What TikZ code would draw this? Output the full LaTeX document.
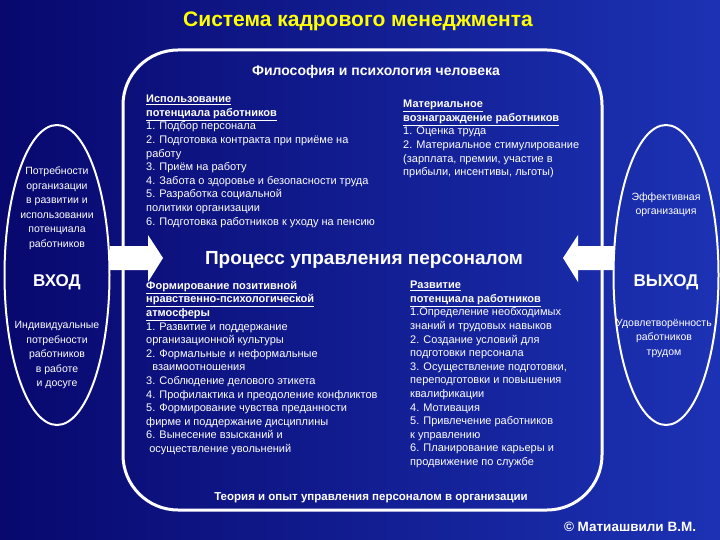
\documentclass[tikz,border=0pt]{standalone}
\usepackage{fontspec}
\setmainfont{Liberation Sans}
\usetikzlibrary{shapes.arrows,shapes.geometric}
\definecolor{bgA}{RGB}{8,8,110}
\definecolor{bgB}{RGB}{28,50,180}
\definecolor{ttl}{RGB}{255,255,0}
\begin{document}
\begin{tikzpicture}[x=1pt,y=-1pt,
  txt/.style={text=white,font=\fontsize{11}{13.6}\selectfont,align=left,inner sep=0pt},
  hd/.style={text=white,font=\bfseries\fontsize{11.5}{14}\selectfont,align=left,inner sep=0pt},
  ell/.style={draw=white,line width=2pt,ellipse,minimum width=105pt,minimum height=300pt}]
\fill[left color=bgA,right color=bgB] (0,0) rectangle (720,540);
\useasboundingbox (0,0) rectangle (720,540);
\node[text=ttl,font=\bfseries\fontsize{21}{24}\selectfont] (title) at (358,21) {Система кадрового менеджмента};
\draw[white,line width=3pt,rounded corners=55pt] (123,50) rectangle (602,510);
\node[hd,font=\bfseries\fontsize{14}{16}\selectfont] (phil) at (376,72) {Философия и психология человека};
\node[ell] (L) at (57,275) {};
\node[ell] (R) at (666,275) {};
\fill[white] (110,246) -- (148,246) -- (148,235) -- (163,258) -- (148,282) -- (148,270) -- (110,270) -- cycle;
\fill[white] (614,246) -- (578,246) -- (578,235) -- (563,258) -- (578,282) -- (578,270) -- (614,270) -- cycle;
\node[text=white,font=\bfseries\fontsize{19}{22}\selectfont,inner sep=0pt] (proc) at (364,260) {Процесс управления персоналом};
\node[txt,align=center,font=\fontsize{10.5}{14.5}\selectfont] (ln) at (57,208) {Потребности\\организации\\в развитии и\\использовании\\потенциала\\работников};
\node[text=white,font=\bfseries\fontsize{17}{20}\selectfont] (vh) at (57,282) {ВХОД};
\node[txt,align=center,font=\fontsize{10.5}{14.5}\selectfont] (ln2) at (57,355) {Индивидуальные\\потребности\\работников\\в работе\\и досуге};
\node[txt,align=center,font=\fontsize{10.5}{14.5}\selectfont] (rn) at (666,205) {Эффективная\\организация};
\node[text=white,font=\bfseries\fontsize{17}{20}\selectfont] (vy) at (666,282) {ВЫХОД};
\node[txt,align=center,font=\fontsize{10.5}{14.5}\selectfont] (rn2) at (664,338) {Удовлетворённость\\работников\\трудом};
\node[txt,anchor=north west] (b1) at (146,95) {\textbf{\underline{Использование}}\\\textbf{\underline{потенциала работников}}\\1. Подбор персонала\\2. Подготовка контракта при приёме на\\работу\\3. Приём на работу\\4. Забота о здоровье и безопасности труда\\5. Разработка социальной\\политики организации\\6. Подготовка работников к уходу на пенсию};
\node[txt,anchor=north west] (b2) at (403,100) {\textbf{\underline{Материальное}}\\\textbf{\underline{вознаграждение работников}}\\1. Оценка труда\\2. Материальное стимулирование\\(зарплата, премии, участие в\\прибыли, инсентивы, льготы)};
\node[txt,anchor=north west] (b3) at (146,281) {\textbf{\underline{Формирование позитивной}}\\\textbf{\underline{нравственно-психологической}}\\\textbf{\underline{атмосферы}}\\1. Развитие и поддержание\\организационной культуры\\2. Формальные и неформальные\\\ \ взаимоотношения\\3. Соблюдение делового этикета\\4. Профилактика и преодоление конфликтов\\5. Формирование чувства преданности\\фирме и поддержание дисциплины\\6. Вынесение взысканий и\\\ осуществление увольнений};
\node[txt,anchor=north west] (b4) at (410,281) {\textbf{\underline{Развитие}}\\\textbf{\underline{потенциала работников}}\\1.Определение необходимых\\знаний и трудовых навыков\\2. Создание условий для\\подготовки персонала\\3. Осуществление подготовки,\\переподготовки и повышения\\квалификации\\4. Мотивация\\5. Привлечение работников\\к управлению\\6. Планирование карьеры и\\продвижение по службе};
\node[hd] (th) at (371,498) {Теория и опыт управления персоналом в организации};
\node[text=white,font=\bfseries\fontsize{13.5}{15}\selectfont] (cp) at (630,527) {© Матиашвили В.М.};
\end{tikzpicture}
\end{document}
